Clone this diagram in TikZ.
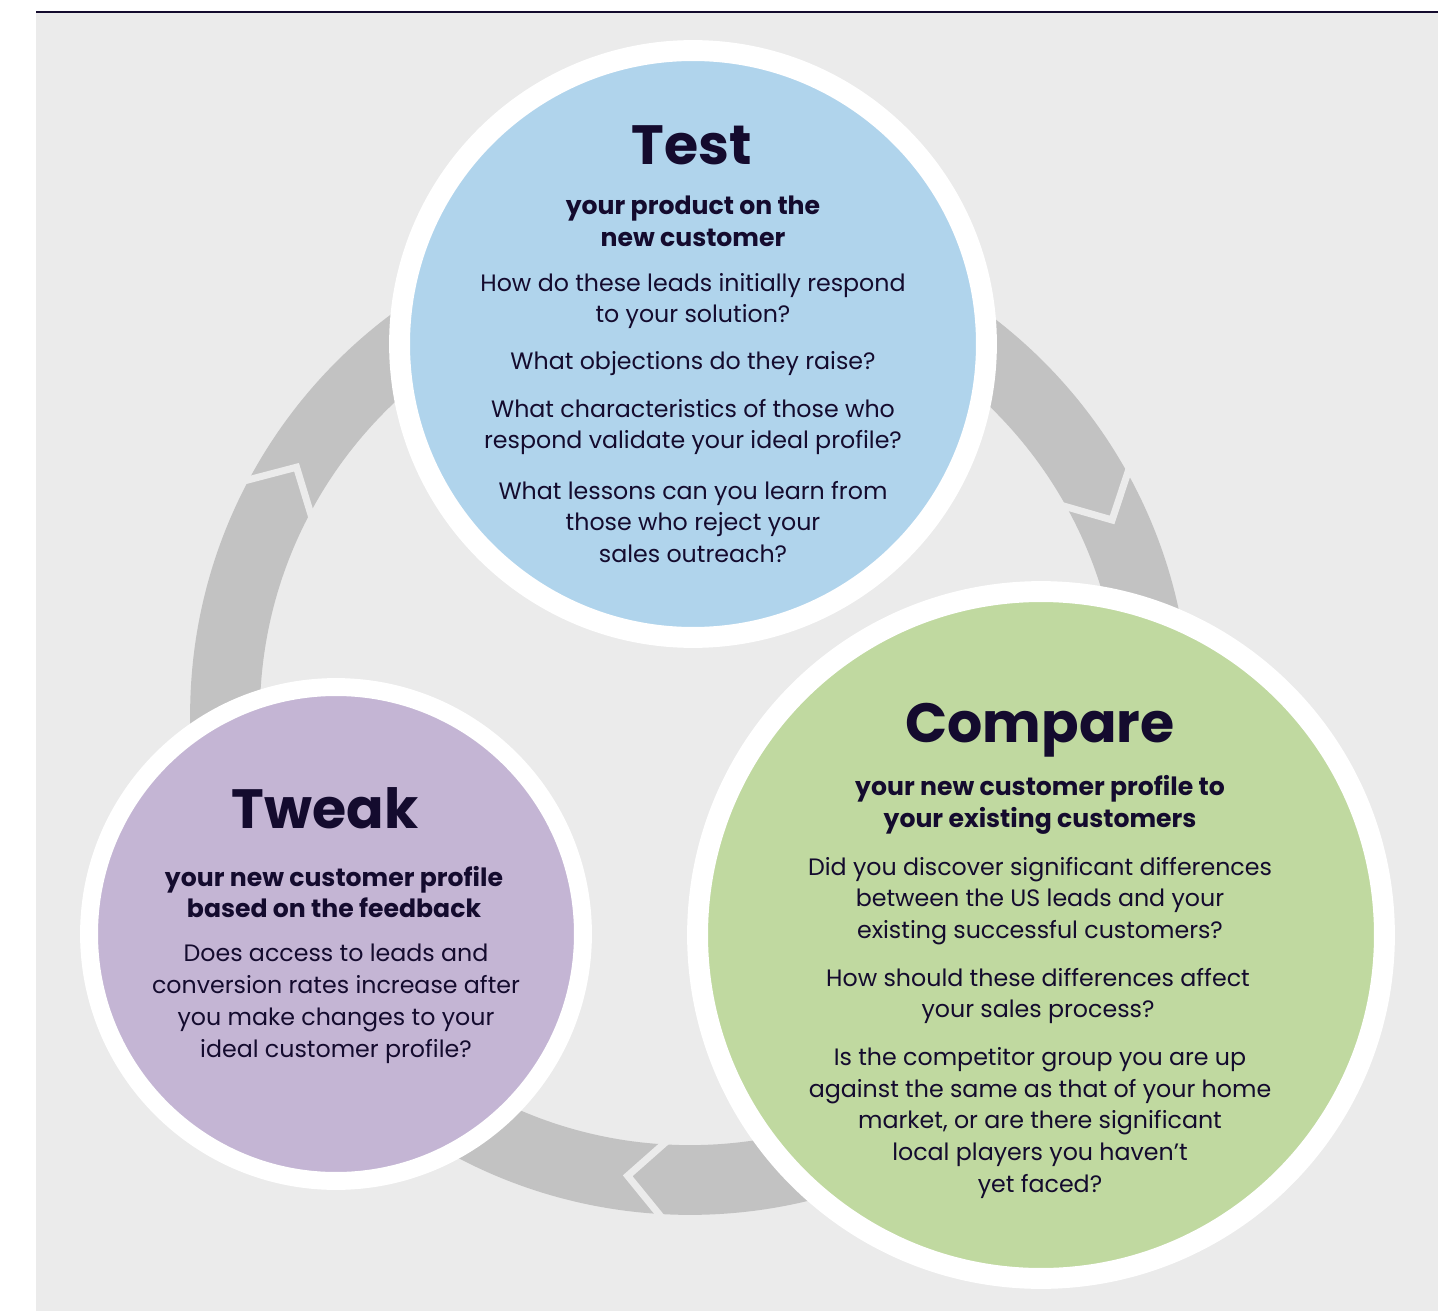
\documentclass[tikz,border=0pt]{standalone}
\usepackage{fontspec}
\setmainfont{Poppins}
\usepackage{tikz}
\usetikzlibrary{positioning, calc}

\definecolor{panelgray}{HTML}{EBEBEB}
\definecolor{ringgray}{HTML}{C2C2C2}
\definecolor{navy}{HTML}{140B2E}
\definecolor{testblue}{HTML}{B0D4EC}
\definecolor{comparegreen}{HTML}{C0D9A0}
\definecolor{tweakpurple}{HTML}{C4B5D4}

\begin{document}
\begin{tikzpicture}[x=0.02cm, y=-0.02cm,
  stage/.style={circle, draw=white, line width=11.9pt, inner sep=0pt},
  title/.style={font=\fontsize{31.5}{38}\selectfont\bfseries, text=navy, anchor=base},
  sub/.style={font=\fontsize{14.3}{18.1}\selectfont\bfseries, text=navy, align=center},
  body/.style={font=\fontsize{13.5}{18.1}\selectfont, text=navy, align=center}]

  \useasboundingbox (0,0) rectangle (1444,1311);

  % Panel and top rule
  \fill[panelgray] (36,12) rectangle (1438,1311);
  \draw[navy, line width=1.7pt] (36,12) -- (1438,12);

  % Cycle ring with chevron cuts
  \coordinate (hub) at (690,715);
  \draw[ringgray, line width=39.7pt] (hub) circle (465);
  \foreach \t in {24.8, 147.8, 262.3}
    \draw[panelgray, line width=4pt] ($(hub)+(-\t-7.5:535)$) -- ($(hub)+(-\t:465)$) -- ($(hub)+(-\t-9.5:395)$);

  % Stage circles
  \node[stage, fill=testblue, minimum size=11.74cm] (test) at (693,344) {};
  \node[stage, fill=comparegreen, minimum size=13.74cm] (compare) at (1041,935) {};
  \node[stage, fill=tweakpurple, line width=10.2pt, minimum size=9.88cm] (tweak) at (336,934) {};

  % Test
  \node[title] (testtitle) at (692,165) {Test};
  \node[sub] (testsub) at (693,221) {your product on the\\new customer};
  \node[body] (testq1) at (693,301) {How do these leads initially respond\\to your solution?};
  \node[body] (testq2) at (693,364) {What objections do they raise?};
  \node[body] (testq3) at (693,427) {What characteristics of those who\\respond validate your ideal profile?};
  \node[body] (testq4) at (693,522) {What lessons can you learn from\\those who reject your\\sales outreach?};

  % Compare
  \node[title] (comparetitle) at (1040,742) {Compare};
  \node[sub] (comparesub) at (1040,805) {your new customer profile to\\your existing customers};
  \node[body] (compareq1) at (1040,901) {Did you discover significant differences\\between the US leads and your\\existing successful customers?};
  \node[body] (compareq2) at (1038,996) {How should these differences affect\\your sales process?};
  \node[body] (compareq3) at (1040,1123) {Is the competitor group you are up\\against the same as that of your home\\market, or are there significant\\local players you haven’t\\yet faced?};

  % Tweak
  \node[title] (tweaktitle) at (325,828) {Tweak};
  \node[sub] (tweaksub) at (334,892) {your new customer profile\\based on the feedback};
  \node[body] (tweakq1) at (336,1004) {Does access to leads and\\conversion rates increase after\\you make changes to your\\ideal customer profile?};

\end{tikzpicture}
\end{document}
